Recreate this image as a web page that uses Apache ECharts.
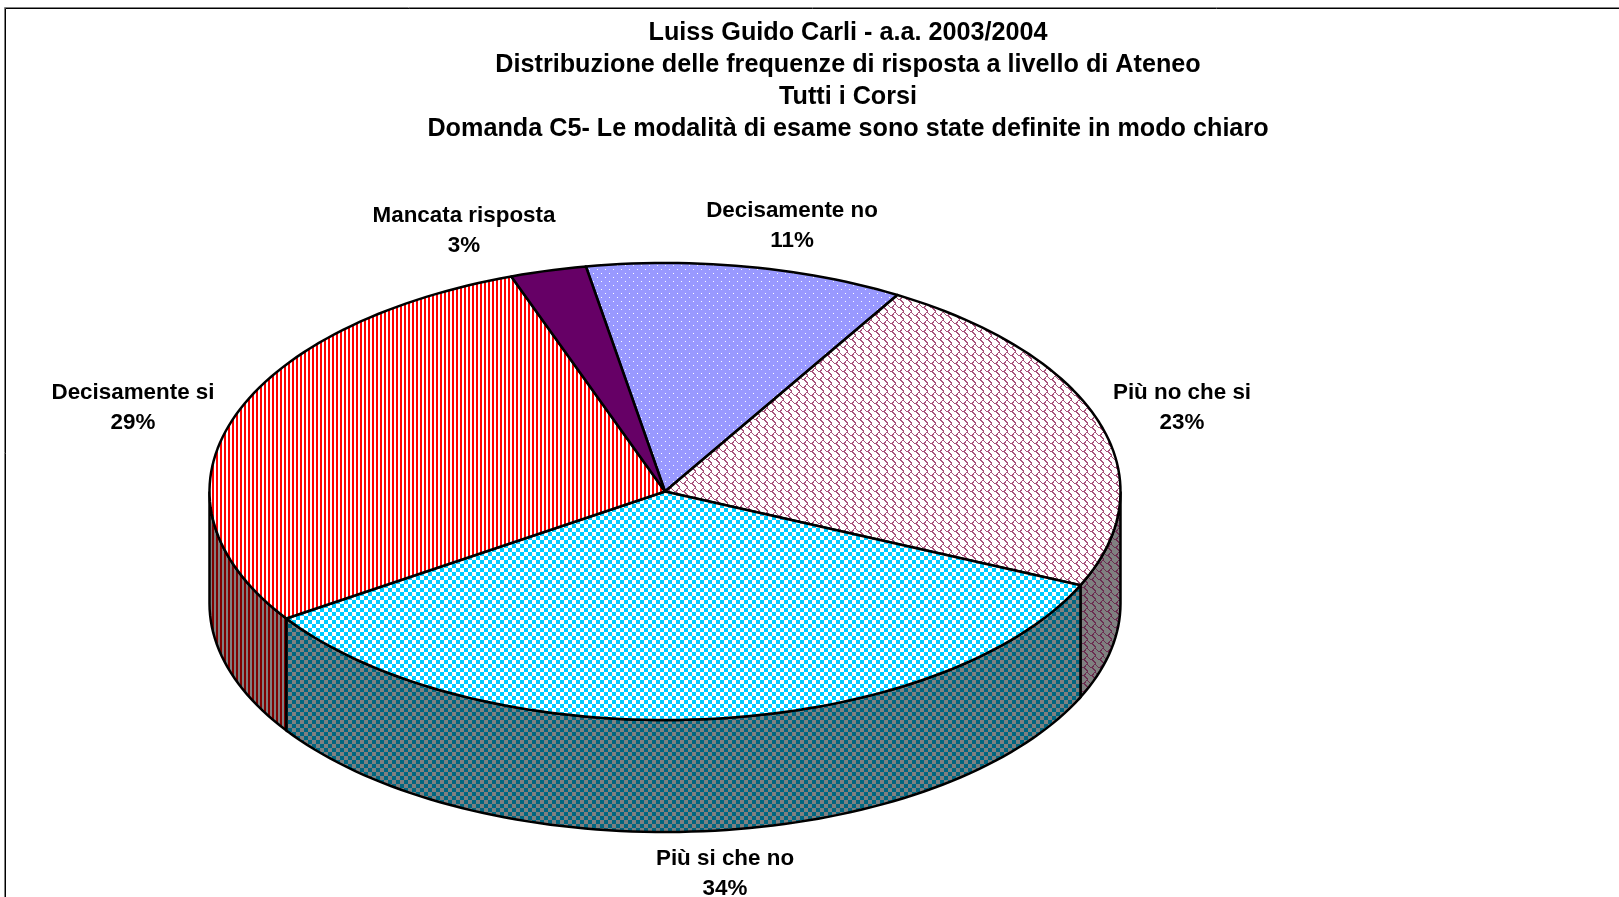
<!DOCTYPE html>
<html>
<head>
<meta charset="utf-8">
<title>Domanda C5</title>
<script src="https://cdn.jsdelivr.net/npm/echarts@6/dist/echarts.min.js"></script>
<style>
  html, body { margin: 0; padding: 0; background: #fff; }
  #chart { width: 1619px; height: 897px; }
</style>
</head>
<body>
<div id="chart"></div>
<script>
const titleLines = [
  "Luiss Guido Carli - a.a. 2003/2004",
  "Distribuzione delle frequenze di risposta a livello di Ateneo",
  "Tutti i Corsi",
  "Domanda C5- Le modalità di esame sono state definite in modo chiaro"
];
const categories = ["Decisamente no", "Più no che si", "Più si che no", "Decisamente si", "Mancata risposta"];
const values = [11.3, 23.2, 33.9, 28.9, 2.7];

// pie geometry (the tilted 3d look is just an ellipse plus a wall)
const cx = 665, cy = 491.5, rx = 455.5, ry = 228.5, depth = 112;
const startAngle = -10;
const labelPos = [[792, 226], [1182, 408], [725, 874], [133, 408], [464, 231]];

function stripes(fg, bg) {
  return makePattern(4, 4, bg, fg, (x, y) => x < 2);
}
function checker(fg, bg) {
  return makePattern(8, 8, bg, fg, (x, y) => ((x >> 2) + (y >> 2)) % 2 === 0);
}
function dots(fg, bg) {
  return makePattern(8, 8, bg, fg, (x, y) => (x === 1 && y === 1) || (x === 5 && y === 5));
}
const shingleBits = [0x03, 0x84, 0x4c, 0x38, 0x0c, 0x06, 0x03, 0x01];
function shingle(fg, bg) {
  return makePattern(8, 8, bg, fg, (x, y) => (shingleBits[y] >> (7 - x)) & 1);
}
function makePattern(w, h, bg, fg, test) {
  const c = document.createElement("canvas");
  c.width = w;
  c.height = h;
  const ctx = c.getContext("2d");
  ctx.fillStyle = bg;
  ctx.fillRect(0, 0, w, h);
  ctx.fillStyle = fg;
  for (let y = 0; y < h; y++) {
    for (let x = 0; x < w; x++) {
      if (test(x, y)) ctx.fillRect(x, y, 1, 1);
    }
  }
  return { image: c, repeat: "repeat" };
}

const topFills = [
  dots("#ffffff", "#9999ff"),
  shingle("#a8527c", "#ffffff"),
  checker("#00ccff", "#ffffff"),
  stripes("#ff0000", "#ffffff"),
  "#660066"
];
const wallFills = [
  dots("#808080", "#4d4d80"),
  shingle("#6b2d50", "#808080"),
  checker("#006680", "#808080"),
  stripes("#800000", "#808080"),
  "#330033"
];

// start and end angle of a slice, clockwise from 12 o'clock
function sliceAngles(i) {
  const total = values.reduce((a, b) => a + b, 0);
  let sum = 0;
  for (let k = 0; k < i; k++) sum += values[k];
  return [startAngle + (sum / total) * 360, startAngle + ((sum + values[i]) / total) * 360];
}
function rimPoint(deg, dy) {
  const a = (deg * Math.PI) / 180;
  return [cx + rx * Math.sin(a), cy - ry * Math.cos(a) + dy];
}
function arcPoints(from, to, dy) {
  const pts = [];
  const n = Math.max(2, Math.ceil(Math.abs(to - from) / 1.5));
  for (let k = 0; k <= n; k++) pts.push(rimPoint(from + ((to - from) * k) / n, dy));
  return pts;
}

function renderWall(params) {
  const [a0, a1] = sliceAngles(params.dataIndex);
  const from = Math.max(a0, 90), to = Math.min(a1, 270);
  if (to <= from) return { type: "group", children: [] };
  return {
    type: "polygon",
    shape: { points: arcPoints(from, to, 0).concat(arcPoints(to, from, depth)) },
    style: { fill: wallFills[params.dataIndex], stroke: "#000", lineWidth: 2.5 }
  };
}
function renderTop(params) {
  const i = params.dataIndex;
  const [a0, a1] = sliceAngles(i);
  return {
    type: "group",
    children: [
      {
        type: "polygon",
        shape: { points: [[cx, cy]].concat(arcPoints(a0, a1, 0)) },
        style: { fill: topFills[i], stroke: "#000", lineWidth: 2.5, lineJoin: "round" }
      },
      {
        type: "text",
        z2: 10,
        style: {
          text: categories[i] + "\n" + Math.round(values[i]) + "%",
          x: labelPos[i][0],
          y: labelPos[i][1],
          align: "center",
          verticalAlign: "middle",
          font: "bold 22.4px 'Liberation Sans', Arial, sans-serif",
          lineHeight: 30,
          fill: "#000"
        }
      }
    ]
  };
}

const chart = echarts.init(document.getElementById("chart"));
chart.setOption({
  animation: false,
  backgroundColor: "#fff",
  title: {
    text: titleLines.join("\n"),
    left: 843,
    top: 12,
    textAlign: "center",
    textStyle: {
      fontFamily: "'Liberation Sans', Arial, sans-serif",
      fontWeight: "bold",
      fontSize: 25.2,
      lineHeight: 32,
      color: "#000"
    }
  },
  graphic: [
    { type: "rect", silent: true, shape: { x: 4.5, y: 7.5, width: 1700, height: 1000 }, style: { fill: "none", stroke: "#808080", lineWidth: 1 } },
    { type: "rect", silent: true, shape: { x: 5.5, y: 8.5, width: 1700, height: 1000 }, style: { fill: "none", stroke: "#000", lineWidth: 1 } }
  ],
  series: [
    { type: "custom", coordinateSystem: "none", silent: true, data: values, renderItem: renderWall, z: 2 },
    { type: "custom", coordinateSystem: "none", silent: true, data: values, renderItem: renderTop, z: 3 }
  ]
});
</script>
</body>
</html>
